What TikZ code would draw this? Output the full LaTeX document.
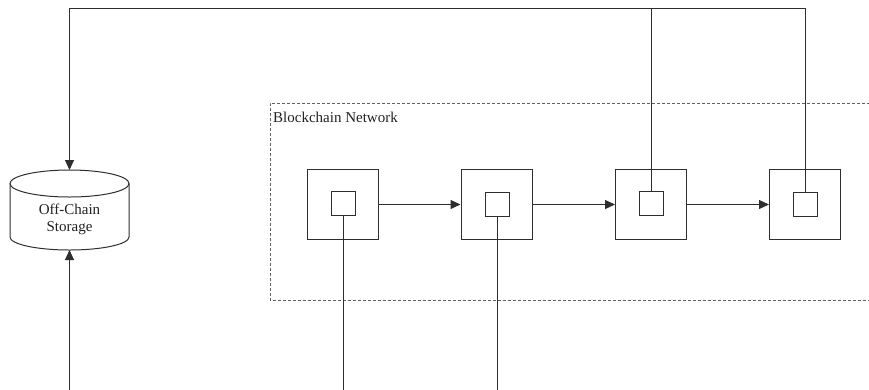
\documentclass[tikz,border=0pt]{standalone}
\usepackage{fontspec}
\setmainfont{Liberation Serif}
\usetikzlibrary{arrows.meta}
\definecolor{ln}{HTML}{2E2E2E}
\definecolor{tx}{HTML}{222222}
\definecolor{dsh}{HTML}{606060}
\tikzset{
  line/.style={draw=ln, line width=1pt},
  tri/.style={-{Triangle[length=10pt,width=9pt]}},
  outerbox/.style={line, minimum width=71pt, minimum height=70pt, inner sep=0pt},
  innerbox/.style={line, minimum width=24pt, minimum height=24pt, inner sep=0pt},
  txt/.style={font=\fontsize{15}{17}\selectfont, text=tx},
}
\begin{document}
\begin{tikzpicture}[x=1pt,y=-1pt]
\useasboundingbox (0,0) rectangle (869,389);
\clip (0,0) rectangle (869,389);
% dashed network region
\draw[dsh, line width=1pt, dash pattern=on 3pt off 2pt] (880,103) -- (270,103) -- (270,300.5) -- (880,300.5);
\node[txt, anchor=west, inner sep=0pt] (lbl) at (273,117) {Blockchain Network};
% blocks
\node[outerbox] (b1) at (342.5,204.5) {};
\node[outerbox] (b2) at (496.5,204.5) {};
\node[outerbox] (b3) at (651,204.5) {};
\node[outerbox] (b4) at (805,204.5) {};
\node[innerbox] (i1) at (343,203.5) {};
\node[innerbox] (i2) at (497,204) {};
\node[innerbox] (i3) at (651,203.5) {};
\node[innerbox] (i4) at (805,204) {};
\draw[line, tri] (b1) -- (b2);
\draw[line, tri] (b2) -- (b3);
\draw[line, tri] (b3) -- (b4);
% cylinder
\draw[line] (69.5,183.5) ellipse [x radius=59.5, y radius=13.5];
\draw[line] (10,183.5) -- (10,237) arc[start angle=180, end angle=0, x radius=59.5, y radius=13] -- (129,183.5);
\coordinate (cyltop) at (69.5,170);
\coordinate (cylbot) at (69.5,250);
\node[txt, align=center, inner sep=0pt] (st) at (69.5,219) {Off-Chain\\Storage};
% coordinates for free ends
\coordinate (topy) at (0,8);
\coordinate (boty) at (0,392);
% top connections
\draw[line, tri] (i4.north) -- (i4.north |- topy) -| (cyltop);
\draw[line] (i3.north) -- (i3.north |- topy);
% bottom connections
\draw[line] (i1.south) -- (i1.south |- boty);
\draw[line] (i2.south) -- (i2.south |- boty);
\draw[line, tri] (cylbot |- boty) -- (cylbot);
\end{tikzpicture}
\end{document}
